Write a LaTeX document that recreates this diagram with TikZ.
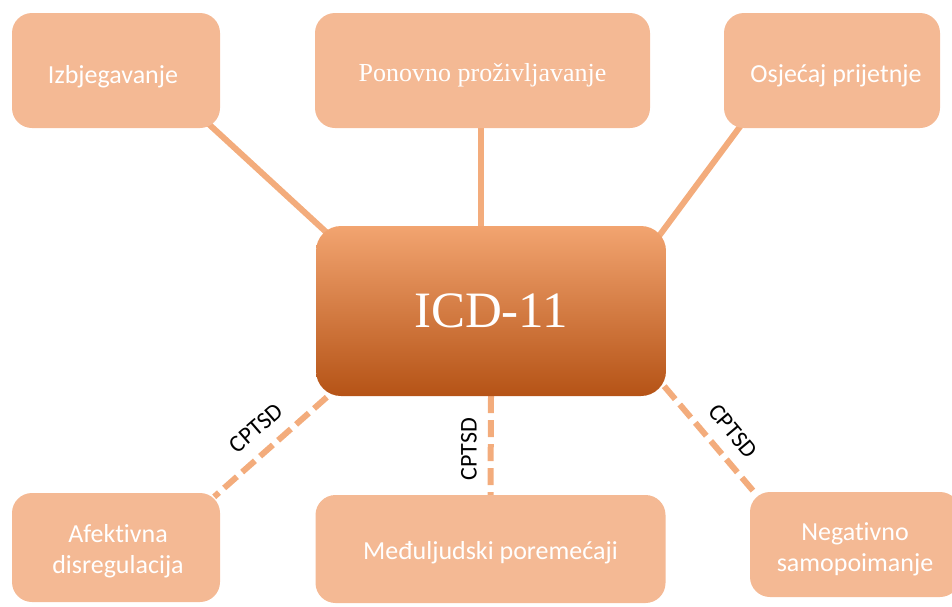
\documentclass[tikz,border=0pt]{standalone}
\usepackage{fontspec}
\setmainfont{Liberation Serif}
\newfontfamily\calib[Ligatures=NoCommon]{Carlito}
\usetikzlibrary{backgrounds,calc}
\definecolor{boxfill}{HTML}{F4B994}
\definecolor{linecol}{HTML}{F3AC7C}
\definecolor{icdtop}{HTML}{F2A470}
\definecolor{icdmid}{HTML}{EA8236}
\definecolor{icdbot}{HTML}{B55316}
\begin{document}
\begin{tikzpicture}[x=1pt,y=-1pt,
  box/.style={fill=boxfill, rounded corners=20pt, inner sep=0pt},
  sanstext/.style={font=\calib\fontsize{26}{31}\selectfont, text=white, align=center, inner sep=0pt},
  seriftext/.style={font=\fontsize{26}{30}\selectfont, text=white, align=center, inner sep=0pt},
  solidline/.style={draw=linecol, line width=6pt},
  dashline/.style={draw=linecol, line width=6pt, dash pattern=on 17pt off 7pt},
  lbl/.style={font=\calib\fontsize{24}{26}\selectfont, text=black, inner sep=0pt}]
\useasboundingbox (0,0) rectangle (952,606);
\clip (0,0) rectangle (952,606);
% top boxes
\node[box, minimum width=208pt, minimum height=115pt] (izb) at (116,70.5) {};
\node[sanstext] (izbt) at ($(izb)+(-3,6)$) {Izbjegavanje};
\node[box, minimum width=335pt, minimum height=115pt] (pon) at (482.5,70.5) {};
\node[seriftext] (pont) at ($(pon)+(0,5)$) {Ponovno proživljavanje};
\node[box, minimum width=216pt, minimum height=115pt] (osj) at (832,70.5) {};
\node[sanstext] (osjt) at ($(osj)+(4,5)$) {Osjećaj prijetnje};
% center
\node[rounded corners=25pt, top color=icdtop, middle color=icdmid, bottom color=icdbot,
      text=white, inner sep=0pt, minimum width=350pt, minimum height=170pt,
      font=\fontsize{51}{55}\selectfont] (icd) at (491,311) {ICD-11};
% bottom boxes
\node[box, minimum width=208pt, minimum height=109pt] (afe) at (116,547.5) {};
\node[sanstext] (afet) at ($(afe)+(2,4)$) {Afektivna\\disregulacija};
\node[box, minimum width=350pt, minimum height=108pt] (med) at (490.5,549) {};
\node[sanstext] (medt) at ($(med)+(0,4)$) {Međuljudski poremećaji};
\node[box, minimum width=210pt, minimum height=105pt] (neg) at (855,544.5) {};
\node[sanstext] (negt) at ($(neg)+(0,5)$) {Negativno\\samopoimanje};
% connectors
\begin{scope}[on background layer]
  \draw[solidline] ($(izb.south east)+(-20,-12)$) -- ($(icd.north west)+(22,17)$);
  \draw[solidline] (481,120) -- (481,235);
  \draw[solidline] ($(osj.south west)+(21,-8)$) -- ($(icd.north east)+(-13,18)$);
  \draw[dashline] ($(icd.south west)+(11,1)$) -- ($(afe.north east)+(-6,4)$);
  \draw[dashline] (icd.south) -- (med.north);
  \draw[dashline] ($(icd.south east)+(-2,-10)$) -- ($(neg.north west)+(5,1)$);
\end{scope}
% labels
\node[lbl, rotate=41] (l1) at (256,428) {CPTSD};
\node[lbl, rotate=90] (l2) at (469,449) {CPTSD};
\node[lbl, rotate=-50] (l3) at (733,431) {CPTSD};
\end{tikzpicture}
\end{document}
